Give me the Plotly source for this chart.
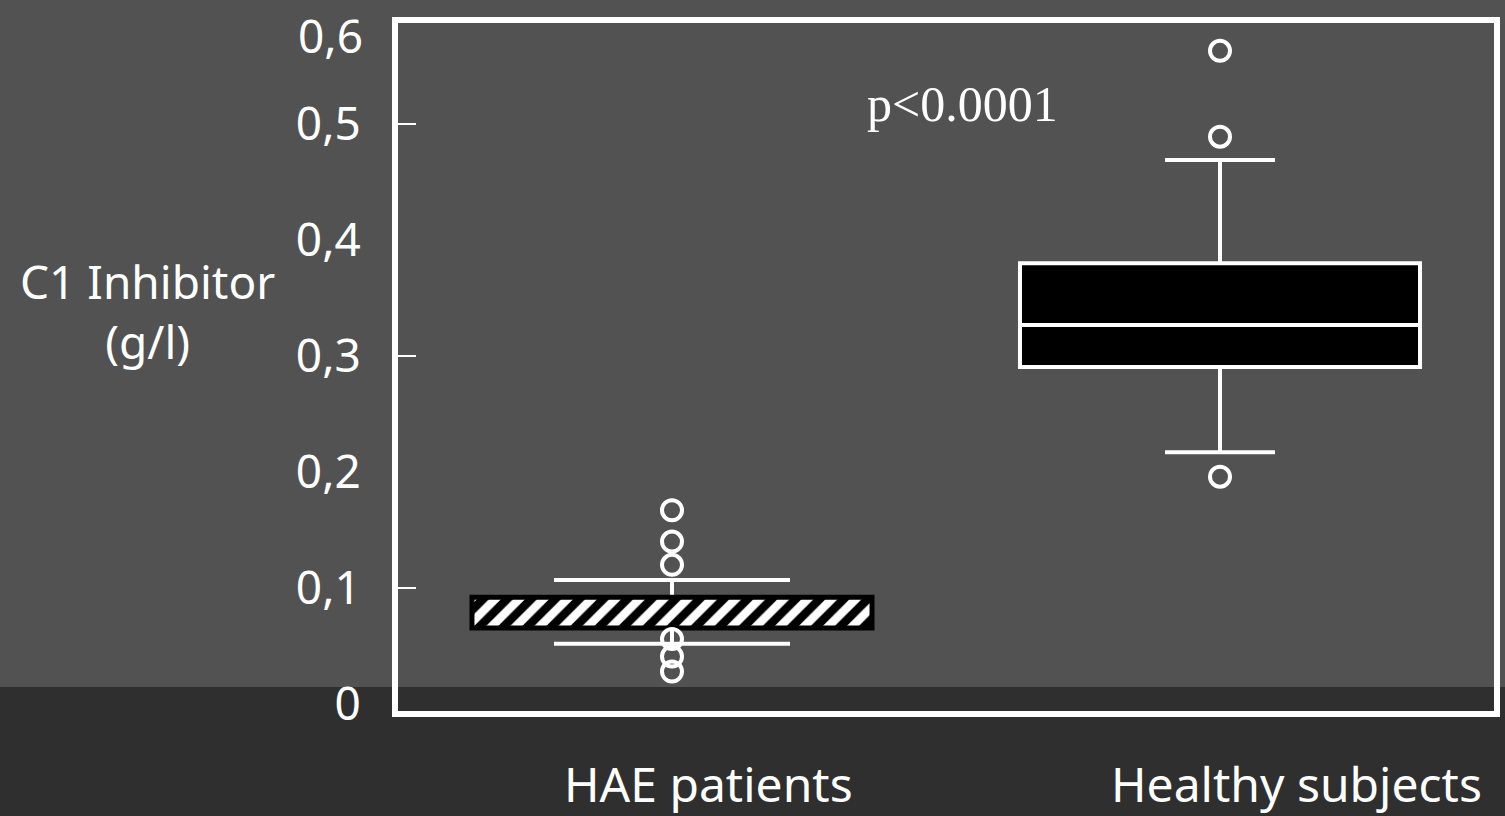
import plotly.graph_objects as go

# ---- data ----
categories = ["HAE patients", "Healthy subjects"]
q1 = [0.0655, 0.2905]
median = [0.078, 0.3267]
q3 = [0.092, 0.380]
lower_fence = [0.052, 0.217]
upper_fence = [0.107, 0.469]
outliers_hae = [0.167, 0.140, 0.120, 0.056, 0.041, 0.028]
outliers_healthy = [0.563, 0.489, 0.196]
ytick_vals = [0, 0.1, 0.2, 0.3, 0.4, 0.5]
ytick_text = ["0", "0,1", "0,2", "0,3", "0,4", "0,5"]
ymark_vals = [0.1, 0.3, 0.5]
top_label = "0,6"
y_title = "C1 Inhibitor<br>(g/l)"
p_text = "p<0.0001"

W, H = 1505, 816
BG = "#525252"
DARK = "#2f2f2f"
FONT = "Noto Sans"
yr = [-0.006, 0.587]
xr = [-0.5, 1.5]
whisker_w = [0.59, 0.275]
xlabel_shift = [36, 76]

fig = go.Figure()

# box plots (main axes)
fills = ["rgba(0,0,0,0)", "black"]
for i, c in enumerate(categories):
    fig.add_trace(go.Box(
        x=[c], q1=[q1[i]], median=[median[i]], q3=[q3[i]],
        lowerfence=[lower_fence[i]], upperfence=[upper_fence[i]],
        width=0.73, whiskerwidth=whisker_w[i],
        fillcolor=fills[i], line=dict(color="white", width=4),
        boxpoints=False, showlegend=False, hoverinfo="skip",
        xaxis="x", yaxis="y"))

# hatched box for HAE patients (overlay axes so it is drawn above)
fig.add_trace(go.Bar(
    x=[categories[0]], base=[q1[0]], y=[q3[0] - q1[0]], width=0.73,
    marker=dict(color="black", line=dict(color="black", width=5),
                pattern=dict(shape="/", fgcolor="white", bgcolor="black",
                             fgopacity=1, fillmode="replace",
                             size=17, solidity=0.5)),
    showlegend=False, hoverinfo="skip", xaxis="x2", yaxis="y2"))

# outliers
fig.add_trace(go.Scatter(
    x=[categories[0]] * len(outliers_hae) + [categories[1]] * len(outliers_healthy),
    y=outliers_hae + outliers_healthy, mode="markers",
    marker=dict(symbol="circle-open", size=20, color="white",
                line=dict(color="white", width=4)),
    showlegend=False, hoverinfo="skip", xaxis="x2", yaxis="y2"))

fig.update_layout(
    width=W, height=H,
    margin=dict(l=398, r=5, t=23, b=105),
    paper_bgcolor=BG, plot_bgcolor="rgba(0,0,0,0)",
    boxmode="overlay", barmode="overlay",
    xaxis=dict(type="category", categoryorder="array", categoryarray=categories,
               range=xr, showline=True, mirror=True, linecolor="white", linewidth=6,
               showgrid=False, zeroline=False, showticklabels=False, ticks=""),
    yaxis=dict(range=yr, showline=True, mirror=True, linecolor="white", linewidth=6,
               showgrid=False, zeroline=False, tickvals=ytick_vals, ticktext=ytick_text,
               ticks="", ticklabelstandoff=22,
               tickfont=dict(family=FONT, size=46, color="white")),
    xaxis2=dict(type="category", categoryorder="array", categoryarray=categories,
                range=xr, overlaying="x", visible=False),
    yaxis2=dict(range=yr, overlaying="y", side="left", showline=False, showgrid=False,
                zeroline=False, tickvals=ymark_vals, showticklabels=False,
                ticks="inside", ticklen=18, tickwidth=2, tickcolor="white"),
    shapes=[dict(type="rect", xref="paper", yref="paper", x0=-1, x1=2,
                 y0=-0.3, y1=(711 - 687) / 688, fillcolor=DARK, line=dict(width=0),
                 layer="below")],
)

ann = [
    dict(text=top_label, xref="paper", yref="paper", x=0, y=0.9826, xanchor="right",
         yanchor="middle", xshift=-33, showarrow=False,
         font=dict(family=FONT, size=46, color="white")),
    dict(text=y_title, xref="paper", yref="paper", x=-0.2283, y=0.581, xanchor="center",
         yanchor="middle", showarrow=False,
         font=dict(family=FONT, size=46, color="white")),
    dict(text=p_text, xref="paper", yref="paper", x=0.515, y=0.882, xanchor="center",
         yanchor="middle", showarrow=False,
         font=dict(family="Liberation Serif", size=50, color="white")),
]
for i, c in enumerate(categories):
    ann.append(dict(text=c, xref="x", yref="paper", x=c, y=-0.1047, xanchor="center",
                    yanchor="middle", xshift=xlabel_shift[i], showarrow=False,
                    font=dict(family=FONT, size=48, color="white")))
fig.update_layout(annotations=ann)

fig.write_html("out.html", config={"displayModeBar": False},
               post_script="document.body.style.margin='0';"
                           "document.body.style.background='" + DARK + "';")
